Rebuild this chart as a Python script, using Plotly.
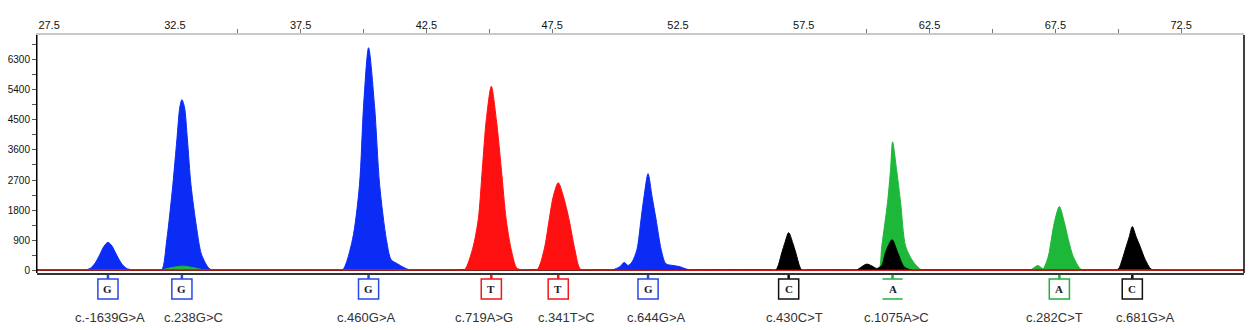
import plotly.graph_objects as go

# ---------------- data ----------------
blue_x = [27.00, 28.70, 28.93, 29.13, 29.33, 29.52, 29.68, 29.84, 30.00, 30.16, 30.36, 30.56, 30.79, 31.00,
          31.80, 31.98, 32.18, 32.42, 32.58, 32.70, 32.78, 32.88, 33.00, 33.14, 33.36, 33.55, 33.80, 33.95, 34.20,
          38.90, 39.17, 39.56, 39.84, 40.00, 40.20, 40.44, 40.64, 40.91, 41.10, 41.35, 41.60, 41.83, 42.10,
          49.60, 49.90, 50.20, 50.36, 50.52, 50.67, 50.87, 51.03, 51.15, 51.31, 51.47, 51.63, 51.83,
          52.02, 52.30, 52.54, 52.94, 53.20, 75.00]
blue_y = [20, 20, 20, 60, 220, 480, 720, 840, 730, 500, 230, 70, 20, 20,
          20, 20, 920, 2560, 3900, 4890, 5100, 4890, 3900, 2560, 1300, 500, 120, 20, 20,
          20, 20, 920, 2560, 4890, 6650, 4890, 2560, 920, 320, 200, 90, 20, 20,
          20, 20, 120, 240, 150, 250, 630, 1520, 2200, 2890, 2200, 1520, 630,
          200, 150, 120, 20, 20, 20]

red_x = [27.00, 43.70, 44.01, 44.33, 44.56, 44.72, 44.88, 45.08, 45.28, 45.48, 45.67, 45.87, 46.11,
         46.50, 46.90, 47.18, 47.38, 47.54, 47.74, 47.95, 48.17, 48.40, 48.62, 48.90, 75.00]
red_y = [25, 25, 25, 630, 1520, 3010, 4500, 5500, 4500, 3010, 1520, 630, 60,
         30, 30, 630, 1520, 2200, 2620, 2200, 1520, 630, 40, 25, 25]

green_x = [27.00, 31.60, 31.90, 32.40, 32.80, 33.20, 33.70, 34.00,
           59.90, 60.20, 60.48, 60.60, 60.83, 60.95, 61.03, 61.19, 61.35, 61.55, 61.86, 62.18, 62.50,
           66.20, 66.50, 66.80, 66.95, 67.02, 67.22, 67.34, 67.46, 67.66, 67.86, 68.02, 68.21, 68.53,
           68.90, 75.00]
green_y = [10, 10, 10, 90, 130, 90, 10, 10,
           10, 10, 30, 720, 2030, 3010, 3840, 3010, 2030, 720, 250, 20, 10,
           10, 10, 150, 80, 60, 420, 920, 1430, 1910, 1430, 920, 420, 30,
           10, 10]

black_x = [27.00, 56.10, 56.39, 56.63, 56.75, 56.90, 57.06, 57.18, 57.42, 57.70,
           59.40, 59.60, 59.80, 60.00, 60.20, 60.40, 60.60, 60.75, 61.01, 61.23, 61.50, 61.80, 62.10,
           69.40, 69.70, 70.00, 70.16, 70.32, 70.44, 70.56, 70.71, 70.87, 71.07, 71.31, 71.60, 75.00]
black_y = [15, 15, 15, 540, 830, 1130, 830, 540, 15, 15,
           15, 15, 110, 190, 140, 60, 150, 540, 920, 540, 100, 15, 15,
           15, 15, 40, 330, 720, 1010, 1310, 1010, 720, 330, 40, 15, 15]

# base calls
call_pos = [29.84, 32.78, 40.20, 45.08, 47.74, 51.31, 56.90, 61.03, 67.66, 70.56]
call_base = ["G", "G", "G", "T", "T", "G", "C", "A", "A", "C"]
call_boxed = [True, True, True, True, True, True, True, False, True, True]
variant_x = [29.92, 33.25, 40.12, 44.80, 48.06, 51.63, 57.14, 61.19, 67.46, 71.07]
variant_labels = ["c.-1639G>A", "c.238G>C", "c.460G>A", "c.719A>G", "c.341T>C",
                  "c.644G>A", "c.430C>T", "c.1075A>C", "c.282C>T", "c.681G>A"]

x_label_vals = [27.5, 32.5, 37.5, 42.5, 47.5, 52.5, 57.5, 62.5, 67.5, 72.5]
x_tick_vals = [35, 37.5, 40, 42.5, 45, 47.5, 60, 62.5, 65, 67.5, 70, 72.5]
y_tick_vals = [0, 900, 1800, 2700, 3600, 4500, 5400, 6300]
y_minor_vals = [450, 1350, 2250, 3150, 4050, 4950, 5850, 6750]

# ---------------- style ----------------
COL = {"G": "#0a2cf5", "T": "#ff1010", "A": "#1db83a", "C": "#000000"}
BOX_COL = {"G": "#2848e8", "T": "#f01818", "A": "#22b040", "C": "#111111"}

fig = go.Figure()
for xs, ys, c in [(blue_x, blue_y, COL["G"]), (green_x, green_y, COL["A"]),
                  (black_x, black_y, COL["C"]), (red_x, red_y, COL["T"])]:
    fig.add_trace(go.Scatter(x=xs, y=ys, mode="lines", fill="tozeroy",
                             line=dict(color=c, width=1, shape="spline", smoothing=0.8),
                             fillcolor=c, hoverinfo="skip", showlegend=False))

shapes = []
annotations = []
# borders
shapes.append(dict(type="line", xref="paper", yref="paper", x0=0, x1=0, y0=0, y1=1,
                   line=dict(color="#000", width=1)))
shapes.append(dict(type="line", xref="paper", yref="paper", x0=1, x1=1, y0=0, y1=1,
                   line=dict(color="#000", width=1.5)))
shapes.append(dict(type="line", xref="paper", yref="paper", x0=0, x1=1, y0=-0.004, y1=-0.004,
                   line=dict(color="#333", width=2)))

y_top = -0.0252
y_bot = -0.1092
hw = 0.4
for p, b, boxed, lx, lab in zip(call_pos, call_base, call_boxed, variant_x, variant_labels):
    c = BOX_COL[b]
    shapes.append(dict(type="line", xref="x", yref="paper", x0=p, x1=p, y0=-0.008, y1=y_top,
                       line=dict(color=c, width=2.5)))
    if boxed:
        shapes.append(dict(type="rect", xref="x", yref="paper", x0=p - hw, x1=p + hw,
                           y0=y_bot, y1=y_top, line=dict(color=c, width=1.5),
                           fillcolor="rgba(0,0,0,0)"))
    else:
        for yy in (y_top, y_bot):
            shapes.append(dict(type="line", xref="x", yref="paper", x0=p - hw, x1=p + hw,
                               y0=yy, y1=yy, line=dict(color=c, width=1.5)))
    annotations.append(dict(x=p, y=(y_top + y_bot) / 2, xref="x", yref="paper",
                            text="<b>" + b + "</b>", showarrow=False, xanchor="center",
                            yanchor="middle",
                            font=dict(family="Liberation Serif", size=11, color="#1a1a2a")))
    annotations.append(dict(x=lx, y=-0.189, xref="x", yref="paper", text=lab,
                            showarrow=False, xanchor="center", yanchor="middle",
                            font=dict(family="Liberation Sans", size=13, color="#333333")))

fig.update_layout(
    width=1251, height=330, autosize=False,
    margin=dict(l=37, r=7, t=35, b=57),
    paper_bgcolor="white", plot_bgcolor="white",
    shapes=shapes, annotations=annotations,
    xaxis=dict(range=[27.02, 75.0], side="top", showgrid=False, zeroline=False,
               showline=True, linecolor="#c8c8c8", linewidth=1.5,
               tickmode="array", tickvals=x_label_vals,
               ticktext=[f"{v:.1f}" for v in x_label_vals], ticks="",
               tickfont=dict(family="Liberation Sans", size=11, color="#111"),
               minor=dict(tickmode="array", tickvals=x_tick_vals, ticks="outside",
                          ticklen=4, tickcolor="#777", tickwidth=1)),
    yaxis=dict(range=[-75, 7030], showgrid=False, zeroline=False,
               showline=True, linecolor="#000", linewidth=1,
               tickmode="array", tickvals=y_tick_vals,
               ticktext=[str(v) for v in y_tick_vals], ticks="outside", ticklen=4,
               tickcolor="#555",
               tickfont=dict(family="Liberation Sans", size=10, color="#111"),
               minor=dict(tickmode="array", tickvals=y_minor_vals, ticks="outside",
                          ticklen=4, tickcolor="#555")),
)

fig.write_html("out.html")
